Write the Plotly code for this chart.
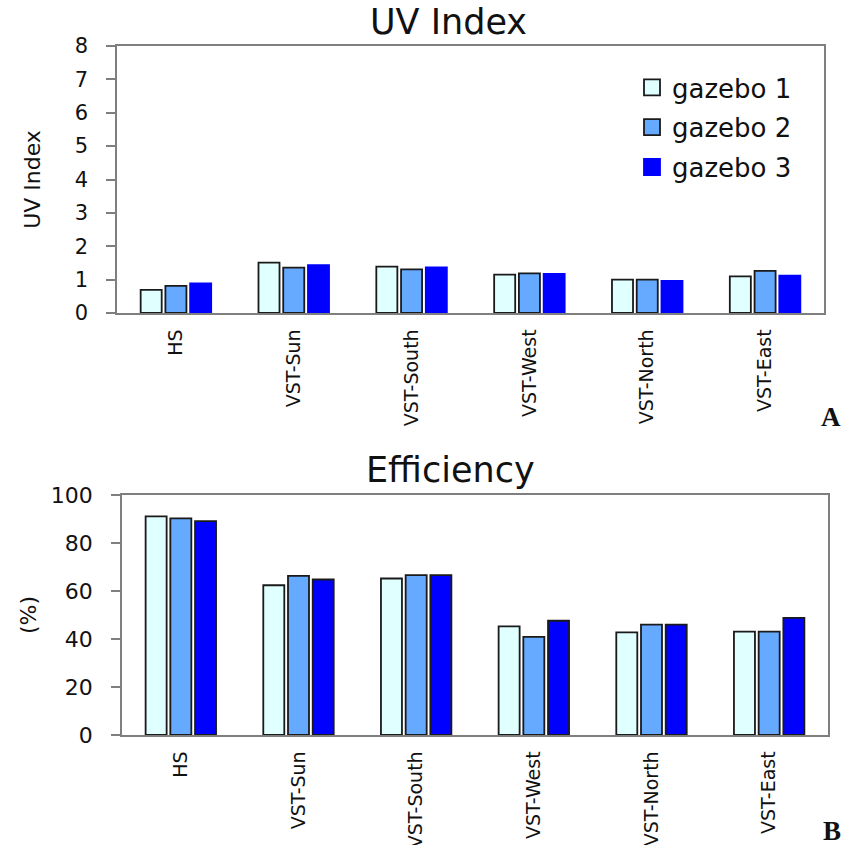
import plotly.graph_objects as go

sites = ["HS", "VST-Sun", "VST-South", "VST-West", "VST-North", "VST-East"]
series = ["gazebo 1", "gazebo 2", "gazebo 3"]

uv_g1 = [0.69, 1.51, 1.39, 1.15, 1.00, 1.10]
uv_g2 = [0.81, 1.36, 1.31, 1.19, 1.00, 1.26]
uv_g3 = [0.89, 1.43, 1.37, 1.17, 0.96, 1.12]

eff_g1 = [91.1, 62.4, 65.2, 45.3, 42.8, 43.1]
eff_g2 = [90.3, 66.3, 66.6, 40.9, 46.0, 43.1]
eff_g3 = [89.1, 64.8, 66.6, 47.6, 46.0, 48.8]

colors = ["#e0ffff", "#66aaff", "#0000ff"]
W, H = 843, 845
ML, MR = 117, 15
PW = W - ML - MR


def px_x(x):
    # pixel column -> paper x
    return (x - ML) / PW


def px_y(y):
    # pixel row -> paper y
    return 1 - y / H


fig = go.Figure()

uv_vals = [uv_g1, uv_g2, uv_g3]
eff_vals = [eff_g1, eff_g2, eff_g3]
for i, name in enumerate(series):
    # top panel: gazebo 3 bars have no dark outline
    line_col = "#0000ff" if i == 2 else "#1a1a1a"
    fig.add_trace(go.Bar(
        x=sites, y=uv_vals[i], name=name, showlegend=False,
        marker=dict(color=colors[i], line=dict(color=line_col, width=1.8)),
        xaxis="x", yaxis="y",
    ))
for i, name in enumerate(series):
    fig.add_trace(go.Bar(
        x=sites, y=eff_vals[i], name=name, showlegend=False,
        marker=dict(color=colors[i], line=dict(color="#1a1a1a", width=1.8)),
        xaxis="x2", yaxis="y2",
    ))
# legend entries (bigger square swatches than the bar default)
for i, name in enumerate(series):
    line_col = "#0000ff" if i == 2 else "#1a1a1a"
    fig.add_trace(go.Scatter(
        x=[None], y=[None], mode="markers", name=name, legendgroup=name,
        marker=dict(symbol="square", size=16, color=colors[i],
                    line=dict(color=line_col, width=1.8)),
        xaxis="x", yaxis="y",
    ))

axis_col = "#7f7f7f"
font_fam = "DejaVu Sans, sans-serif"
cat_font = dict(family=font_fam, size=19, color="#111")
title_font = dict(family=font_fam, size=35, color="#111")
ytitle_font = dict(family=font_fam, size=22, color="#111")

xcommon = dict(type="category", tickangle=-90, tickfont=cat_font, showline=True,
               linecolor=axis_col, linewidth=1.5, mirror=True, ticks="",
               ticklabelstandoff=7, showgrid=False, zeroline=False, automargin=False)
ycommon = dict(showline=True, linecolor=axis_col, linewidth=1.5, mirror=True,
               ticks="outside", ticklen=9, tickcolor=axis_col, tickwidth=1.5,
               ticklabelstandoff=14, showgrid=False,
               zeroline=False, automargin=False)

fig.update_layout(
    template="none",
    width=W, height=H,
    margin=dict(l=ML, r=MR, t=0, b=0),
    paper_bgcolor="white", plot_bgcolor="white",
    barmode="group", bargap=0.37, bargroupgap=0.15,
    xaxis=dict(domain=[0, px_x(824)], anchor="y", **xcommon),
    yaxis=dict(domain=[px_y(313), px_y(46)], anchor="x", range=[0, 8], dtick=1,
               tickfont=dict(family=font_fam, size=21, color="#111"),
               title=dict(text="UV Index", standoff=28, font=ytitle_font),
               **ycommon),
    xaxis2=dict(domain=[px_x(122), 1], anchor="y2", **xcommon),
    yaxis2=dict(domain=[px_y(735), px_y(495)], anchor="x2", range=[0, 100], dtick=20,
                tickfont=dict(family=font_fam, size=22, color="#111"),
                title=dict(text="(%)", standoff=8, font=ytitle_font),
                **ycommon),
    legend=dict(x=px_x(632), y=px_y(64), xanchor="left", yanchor="top",
                font=dict(family=font_fam, size=26, color="#111"),
                tracegroupgap=3, bgcolor="rgba(0,0,0,0)", borderwidth=0),
    showlegend=True,
    annotations=[
        dict(text="UV Index", x=px_x(448), y=px_y(22), xref="paper", yref="paper",
             xanchor="center", yanchor="middle", showarrow=False, font=title_font),
        dict(text="Efficiency", x=px_x(450), y=px_y(470), xref="paper", yref="paper",
             xanchor="center", yanchor="middle", showarrow=False, font=title_font),
        dict(text="<b>A</b>", x=px_x(843), y=px_y(417), xref="paper", yref="paper",
             xanchor="right", yanchor="middle", showarrow=False,
             font=dict(family="Liberation Serif, serif", size=27, color="#111")),
        dict(text="<b>B</b>", x=px_x(843), y=px_y(831), xref="paper", yref="paper",
             xanchor="right", yanchor="middle", showarrow=False,
             font=dict(family="Liberation Serif, serif", size=27, color="#111")),
    ],
)

# drop the browser's default 8px body margin so the figure sits at (0, 0)
fig.write_html("out.html", config={"displayModeBar": False},
               post_script="document.body.style.margin='0px';")
